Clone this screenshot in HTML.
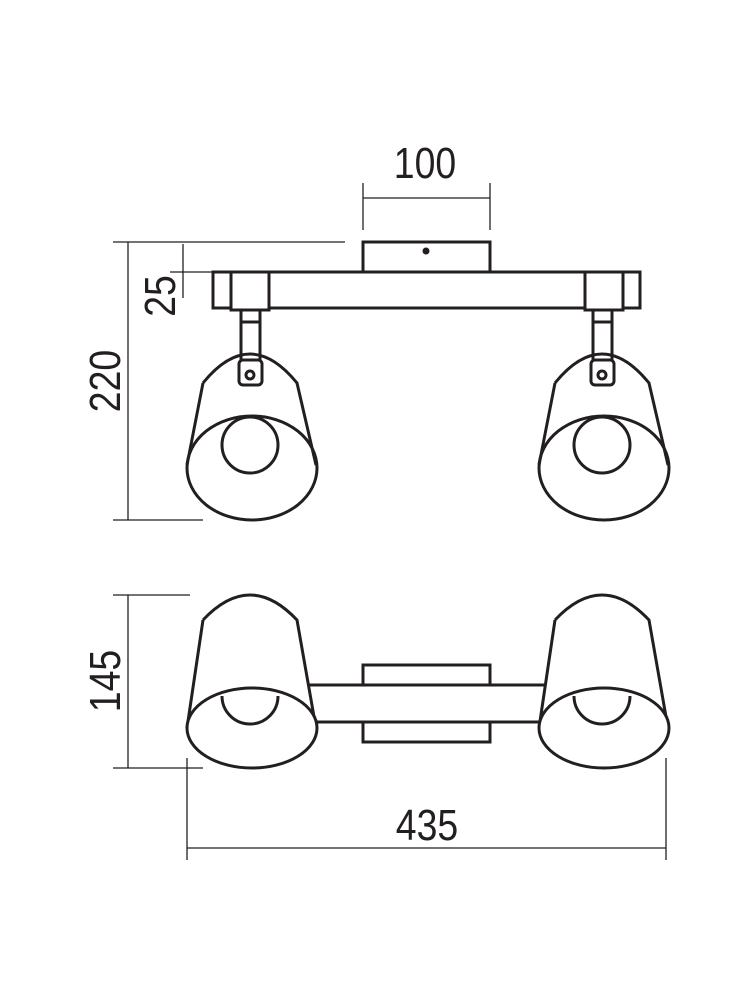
<!DOCTYPE html>
<html><head><style>html,body{margin:0;padding:0;background:#fff}</style></head><body>
<svg width="750" height="1000" viewBox="0 0 750 1000" xmlns="http://www.w3.org/2000/svg">
<g fill="none" stroke="#231f20" stroke-width="1.3">
<line x1="363" y1="183" x2="363" y2="230"/><line x1="490" y1="183" x2="490" y2="230"/><line x1="363" y1="198" x2="490" y2="198"/>
<line x1="113" y1="242" x2="345" y2="242"/><line x1="128" y1="242" x2="128" y2="520"/><line x1="113" y1="520" x2="203" y2="520"/>
<line x1="183" y1="244" x2="183" y2="298"/><line x1="170" y1="272" x2="213" y2="272"/>
<line x1="113" y1="595" x2="190" y2="595"/><line x1="128" y1="595" x2="128" y2="768"/><line x1="113" y1="768" x2="203" y2="768"/>
<line x1="187" y1="758" x2="187" y2="860"/><line x1="666" y1="758" x2="666" y2="860"/><line x1="187" y1="848" x2="666" y2="848"/>
</g>
<g fill="none" stroke="#231f20" stroke-width="3">
<rect x="363" y="242" width="127" height="30"/>
<rect x="213" y="272" width="427" height="36"/>
<rect x="231" y="272" width="38" height="38" fill="#fff"/>
<rect x="585" y="272" width="38" height="38" fill="#fff"/>
<g id="lamp">
<rect x="241" y="310" width="19" height="53"/>
<line x1="241" y1="322" x2="260" y2="322"/>
<path d="M203 383 Q250 325 297 383 L316 465 M203 383 L187 465"/>
<rect x="239" y="360" width="23" height="25" rx="4" fill="#fff"/>
<circle cx="250" cy="375" r="4"/>
<ellipse cx="252" cy="468" rx="65" ry="52"/>
<circle cx="250" cy="445" r="28"/>
</g>
<use href="#lamp" transform="translate(352,0)"/>
<rect x="363" y="665" width="127" height="77"/>
<rect x="314" y="685" width="226" height="37" fill="#fff" stroke="none"/>
<line x1="300" y1="685" x2="550" y2="685"/>
<line x1="300" y1="722" x2="550" y2="722"/>
<g id="lamp2">
<path d="M203 620 Q250 570 297 620 L316 728 L187 728 L203 620 Z" fill="#fff" stroke="none"/>
<path d="M203 620 Q250 570 297 620 L316 728 M203 620 L187 728"/>
<ellipse cx="252" cy="728" rx="65" ry="40" fill="#fff"/>
<path d="M222 696 A28 28 0 0 0 278 696"/>
</g>
<use href="#lamp2" transform="translate(352,0)"/>
</g>
<g fill="#231f20" font-family="'Liberation Sans Narrow','Liberation Sans',sans-serif" font-size="44" text-anchor="middle">
<circle cx="426" cy="251" r="3.5"/>
<text x="425" y="178" transform="translate(425,0) scale(0.85,1) translate(-425,0)">100</text>
<text x="427" y="840" transform="translate(427,0) scale(0.85,1) translate(-427,0)">435</text>
<text transform="translate(175,296) rotate(-90) scale(0.85,1)" x="0" y="0">25</text>
<text transform="translate(120,381) rotate(-90) scale(0.85,1)" x="0" y="0">220</text>
<text transform="translate(120,681) rotate(-90) scale(0.85,1)" x="0" y="0">145</text>
</g>
</svg>
</body></html>
